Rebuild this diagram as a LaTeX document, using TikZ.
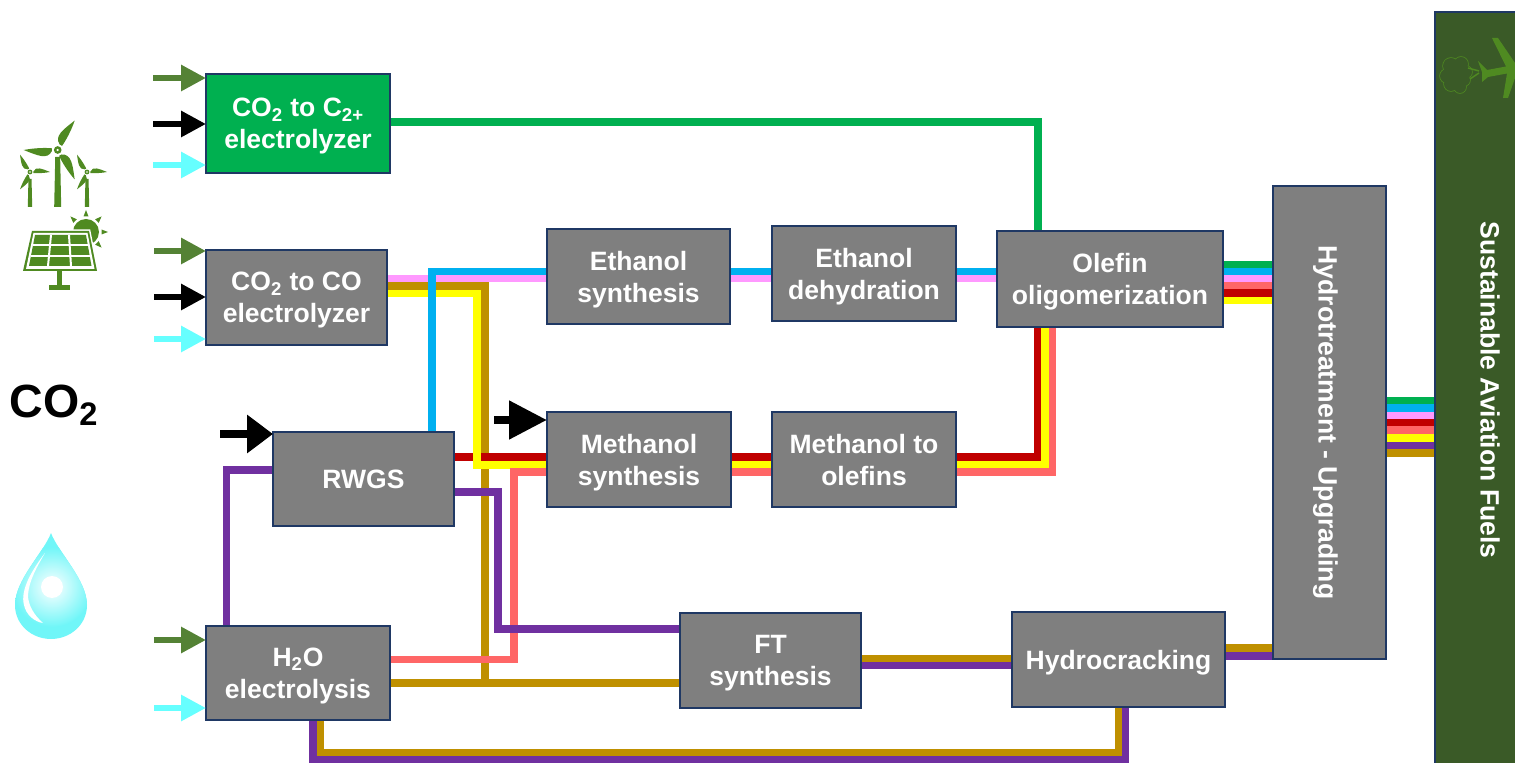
\documentclass[tikz,border=0pt]{standalone}
\usepackage{fontspec}
\setmainfont{Liberation Sans}
\usetikzlibrary{arrows.meta, backgrounds}

\definecolor{pgreen}{HTML}{00B050}
\definecolor{pblue}{HTML}{00B0F0}
\definecolor{ppink}{HTML}{FF99FF}
\definecolor{pbrown}{HTML}{BF9000}
\definecolor{pyellow}{HTML}{FFFF00}
\definecolor{pred}{HTML}{C00000}
\definecolor{psalmon}{HTML}{FF6666}
\definecolor{ppurple}{HTML}{7030A0}
\definecolor{aolive}{HTML}{548235}
\definecolor{acyan}{HTML}{66FFFF}
\definecolor{boxgray}{HTML}{7F7F7F}
\definecolor{boxedge}{HTML}{1F3864}
\definecolor{safgreen}{HTML}{3A5A27}
\definecolor{icongreen}{HTML}{4F8A21}
\definecolor{dropcyan}{HTML}{70F6F8}

\tikzset{
    box/.style 2 args={draw=boxedge, line width=0.04cm, fill=boxgray, text=white,
        outer sep=0pt, inner sep=0pt, align=center, minimum width=#1*0.02cm, minimum height=#2*0.02cm,
        text depth=0pt, font=\bfseries\fontsize{15.1}{18.1}\selectfont},
    pipe/.style={draw=#1, line width=0.15cm},
    inarrow/.style={draw=#1, line width=0.12cm, -{Triangle[length=0.5cm, width=0.5cm]}},
    bigarrow/.style={draw=black, line width=0.16cm, -{Triangle[length=#1, width=0.74cm]}}
}

\begin{document}
\begin{tikzpicture}[x=0.02cm, y=-0.02cm]
    \useasboundingbox (0,0) rectangle (1515,763);

    % --- Process boxes ---
    \node[box={184}{99}, fill=pgreen] (co2c) at (298,123.5) {CO\textsubscript{2} to C\textsubscript{2+}\\electrolyzer};
    \node[box={181}{95}] (co2co) at (296.5,297.5) {CO\textsubscript{2} to CO\\electrolyzer};
    \node[box={183}{95}] (ethsyn) at (638.5,276.5) {Ethanol\\synthesis};
    \node[box={184}{95}] (ethdeh) at (864,273.5) {Ethanol\\dehydration};
    \node[box={226}{96}] (olefin) at (1110,279) {Olefin\\oligomerization};
    \node[box={181}{94}] (rwgs) at (363.5,479) {RWGS};
    \node[box={184}{95}] (methsyn) at (639,459.5) {Methanol\\synthesis};
    \node[box={184}{95}] (mto) at (864,459.5) {Methanol to\\olefins};
    \node[box={184}{94}] (water) at (298,673) {H\textsubscript{2}O\\electrolysis};
    \node[box={181}{95}] (ft) at (770.5,660.5) {FT\\synthesis};
    \node[box={213}{95}] (crack) at (1118.5,659.5) {Hydrocracking};
    \node[box={113}{473}, text depth=] (hydro) at (1329.5,422.5) {\rotatebox{-90}{\raisebox{-0.08cm}[\height][\depth]{Hydrotreatment - Upgrading}}};
    \node[box={110}{756}, text depth=, fill=safgreen] (saf) at (1490,390) {\rotatebox{-90}{Sustainable Aviation Fuels}};
    \node[font=\bfseries\fontsize{26.5}{30}\selectfont, inner sep=0pt] (co2) at (54,405) {CO\textsubscript{2}};

    % --- Pipes, behind the boxes; later ones cross over earlier ones ---
    \begin{scope}[on background layer]
        \draw[pipe=ppink] (co2co.east |- 0,278.5) -- (ethsyn.west |- 0,278.5);
        \draw[pipe=ppink] (ethsyn.east |- 0,278.5) -- (ethdeh.west |- 0,278.5);
        \draw[pipe=ppink] (ethdeh.east |- 0,278.5) -- (olefin.west |- 0,278.5);
        \draw[pipe=pblue] (ethsyn.east |- 0,271.5) -- (ethdeh.west |- 0,271.5);
        \draw[pipe=pblue] (ethdeh.east |- 0,271.5) -- (olefin.west |- 0,271.5);

        \draw[pipe=pbrown] (co2co.east |- 0,286) -- (485,286) -- (485,683);
        \draw[pipe=pbrown] (water.east |- 0,683) -- (ft.west |- 0,683);

        \draw[pipe=pred] (rwgs.east |- 0,457) -- (methsyn.west |- 0,457);
        \draw[pipe=pred] (methsyn.east |- 0,457) -- (mto.west |- 0,457);
        \draw[pipe=pred] (mto.east |- 0,457) -- (1038,457) -- (1038,327);

        \draw[pipe=pyellow] (co2co.east |- 0,293.5) -- (477,293.5) -- (477,465) -- (methsyn.west |- 0,465);
        \draw[pipe=pyellow] (methsyn.east |- 0,465) -- (mto.west |- 0,465);
        \draw[pipe=pyellow] (mto.east |- 0,465) -- (1045,465) -- (1045,327);

        \draw[pipe=psalmon] (water.east |- 0,659.5) -- (514,659.5) -- (514,472) -- (methsyn.west |- 0,472);
        \draw[pipe=psalmon] (methsyn.east |- 0,472) -- (mto.west |- 0,472);
        \draw[pipe=psalmon] (mto.east |- 0,472) -- (1052.5,472) -- (1052.5,327);

        \draw[pipe=ppurple] (rwgs.east |- 0,492) -- (498,492) -- (498,629) -- (ft.west |- 0,629);
        \draw[pipe=ppurple] (226.5,626) -- (226.5,470) -- (rwgs.west |- 0,470);

        \draw[pipe=pblue] (432,432) -- (432,271.5) -- (ethsyn.west |- 0,271.5);
        \draw[pipe=pgreen] (co2c.east |- 0,122) -- (1038,122) -- (1038,231);

        % --- Into and out of hydrocracking ---
        \draw[pipe=pbrown] (ft.east |- 0,659) -- (crack.west |- 0,659);
        \draw[pipe=ppurple] (ft.east |- 0,665.5) -- (crack.west |- 0,665.5);
        \draw[pipe=pbrown] (crack.east |- 0,648) -- (hydro.west |- 0,648);
        \draw[pipe=ppurple] (crack.east |- 0,656) -- (hydro.west |- 0,656);
        \draw[pipe=ppurple] (313,720) -- (313,759.5) -- (1125.5,759.5) -- (1125.5,707);
        \draw[pipe=pbrown] (320.5,720) -- (320.5,752.5) -- (1118.5,752.5) -- (1118.5,707);

        % --- Bundles into hydrotreatment and on to the fuels box ---
        \foreach \col/\y in {pgreen/264.5, pblue/271.5, ppink/278.5, psalmon/285.5, pred/293, pyellow/300.5}
            \draw[pipe=\col] (olefin.east |- 0,\y) -- (hydro.west |- 0,\y);
        \foreach \col/\y in {pgreen/401, pblue/408, ppink/415.5, pred/423, psalmon/430, pyellow/438, ppurple/445.5, pbrown/453}
            \draw[pipe=\col] (hydro.east |- 0,\y) -- (saf.west |- 0,\y);
    \end{scope}

    % --- Feed arrows ---
    \foreach \n/\b/\col/\xs/\y in {a/co2c/aolive/153/78, b/co2c/black/153/124, c/co2c/acyan/153/165,
        d/co2co/aolive/154/251, e/co2co/black/154/297, f/co2co/acyan/154/339,
        g/water/aolive/154/640, h/water/acyan/154/708} {
        \coordinate (in\n) at (\xs,\y);
        \draw[inarrow=\col] (in\n) -- (\b.west |- in\n);
    }
    \coordinate (inrwgs) at (220,434);
    \draw[bigarrow=0.52cm] (inrwgs) -- (rwgs.west |- inrwgs);
    \coordinate (inmeth) at (494,420);
    \draw[bigarrow=0.76cm] (inmeth) -- (methsyn.west |- inmeth);

    % --- Wind turbines ---
    \foreach \hx/\hy/\len/\w/\a in {57.7/150/34/3.5/60, 30/172/20/2.2/0, 87/172/20/2.2/0} {
        \fill[icongreen] (\hx-\w*0.7,\hy+7) -- (\hx+\w*0.7,\hy+7) -- (\hx+\w,207) -- (\hx-\w,207) -- cycle;
        \foreach \k in {0,120,240}
            \fill[icongreen, shift={(\hx,\hy)}, rotate=\a+\k, scale=\len]
                (0.17,-0.03) .. controls (0.3,-0.3) and (0.6,-0.16) .. (1,0)
                .. controls (0.7,0.06) and (0.35,0.07) .. (0.17,0.05) -- cycle;
        \fill[icongreen] (\hx,\hy) circle (\w*1.1);
        \fill[white] (\hx,\hy) circle (\w*0.35);
    }

    % --- Solar panel with sun behind it ---
    \fill[icongreen] (86,232) circle (13);
    \foreach \a in {135,90,45,0,-45}
        \fill[icongreen, shift={(86,232)}, rotate=\a] (15.5,-2.5) -- (15.5,2.5) -- (22,0) -- cycle;
    \draw[white, line width=0.06cm] (32,231) -- (89,231) -- (97,271) -- (23,271) -- cycle;
    \fill[icongreen] (32,231) -- (89,231) -- (97,271) -- (23,271) -- cycle;
    \fill[white] (33.5,233) -- (87.5,233) -- (94.5,269) -- (26,269) -- cycle;
    \fill[icongreen] (35,235) -- (86,235) -- (91.5,266) -- (29,266) -- cycle;
    \draw[white, line width=0.04cm] (33,245.5) -- (88,245.5);
    \draw[white, line width=0.04cm] (31,256) -- (90,256);
    \draw[white, line width=0.04cm] (51,235) -- (48,266);
    \draw[white, line width=0.04cm] (69,235) -- (71,266);
    \fill[icongreen] (57,271) rectangle (62,285);
    \fill[icongreen] (49,285) rectangle (70,290);

    % --- Water drop ---
    \begin{scope}
        \clip (51,533) .. controls (44,552) and (15,580) .. (15,605)
            .. controls (15,625) and (32,639) .. (51,639)
            .. controls (70,639) and (87,625) .. (87,605)
            .. controls (87,580) and (58,552) .. (51,533) -- cycle;
        \fill[dropcyan] (0,520) rectangle (100,650);
        \shade[inner color=white, outer color=dropcyan] (52,587) circle (40);
    \end{scope}
    \fill[white] (52,587) circle (11);
    \fill[white] (45,553) .. controls (32,570) and (20,590) .. (24,605)
        .. controls (26,615) and (35,622) .. (43,623)
        .. controls (34,615) and (28,605) .. (28,595)
        .. controls (29,580) and (38,565) .. (45,553) -- cycle;

    % --- Cloud and plane on the fuels box ---
    \foreach \cx/\cy/\r in {1451/66/8, 1461/64/7, 1466/72/6, 1447/76/7, 1451/84/7, 1460/87/6, 1464/80/6, 1456/75/10}
        \draw[icongreen, line width=0.03cm] (\cx,\cy) circle (\r);
    \foreach \cx/\cy/\r in {1451/66/8, 1461/64/7, 1466/72/6, 1447/76/7, 1451/84/7, 1460/87/6, 1464/80/6, 1456/75/10}
        \fill[safgreen] (\cx,\cy) circle (\r);
    \draw[icongreen, line width=0.03cm] (1468,68) -- (1479,71);
    \draw[icongreen, line width=0.03cm] (1470,79) -- (1479,73);
    \fill[icongreen] (1478,61) -- (1487,70) -- (1506,66.5) -- (1492,38) -- (1498,38) -- (1515,63)
        -- (1515,78) -- (1508,98) -- (1503,98) -- (1507,73.5) -- (1488,77) -- (1482,82) -- (1482,72) -- cycle;
\end{tikzpicture}
\end{document}
